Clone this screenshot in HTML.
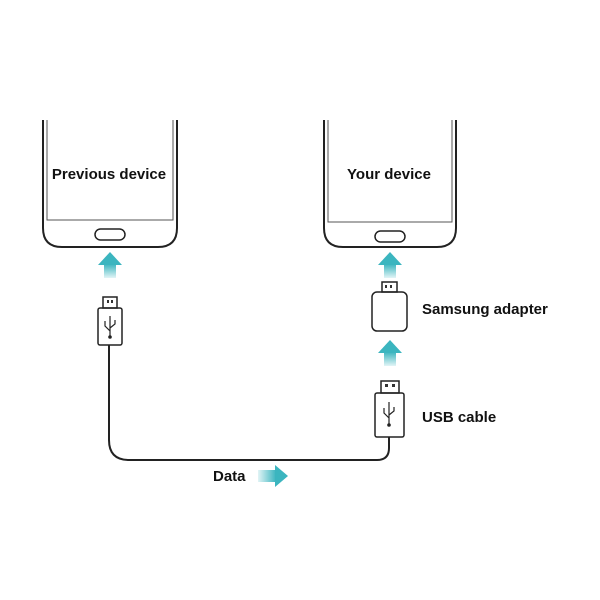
<!DOCTYPE html>
<html><head><style>body{margin:0;background:#fff}svg{display:block}text{font-family:"Liberation Sans",sans-serif;font-weight:bold;font-size:15px;fill:#111}</style></head>
<body>
<svg width="600" height="600" viewBox="0 0 600 600">
<defs>
<linearGradient id="g" x1="0" y1="1" x2="0" y2="0"><stop offset="0" stop-color="#3bb5bf" stop-opacity="0.15"/><stop offset="1" stop-color="#3bb5bf"/></linearGradient>
<linearGradient id="gh" x1="0" y1="0" x2="1" y2="0"><stop offset="0" stop-color="#3bb5bf" stop-opacity="0.15"/><stop offset="1" stop-color="#3bb5bf"/></linearGradient>
</defs>
<g fill="none" stroke="#222" stroke-width="2">
<path d="M43,120 V228 Q43,247 62,247 H158 Q177,247 177,228 V120"/>
<path d="M47,120 V220 H173 V120" stroke-width="1" stroke="#555"/>
<rect x="95" y="229" width="30" height="11" rx="5.5" stroke-width="1.5"/>
<path d="M324,120 V228 Q324,247 343,247 H437 Q456,247 456,228 V120"/>
<path d="M328,120 V222 H452 V120" stroke-width="1" stroke="#555"/>
<rect x="375" y="231" width="30" height="11" rx="5.5" stroke-width="1.5"/>
<rect x="103" y="297" width="14" height="11" stroke-width="1.5"/>
<rect x="98" y="308" width="24" height="37" rx="2" stroke-width="1.5"/>
<path d="M109,345 V440 Q109,460 129,460 H377 Q389,460 389,448 V437"/>
<rect x="382" y="282" width="15" height="10" stroke-width="1.5"/>
<rect x="372" y="292" width="35" height="39" rx="5" stroke-width="1.5"/>
<rect x="381" y="381" width="18" height="12" stroke-width="1.5"/>
<rect x="375" y="393" width="29" height="44" rx="2" stroke-width="1.5"/>
</g>
<g fill="#333">
<rect x="107" y="300" width="2" height="3"/><rect x="111" y="300" width="2" height="3"/>
<rect x="385" y="285" width="2" height="3"/><rect x="390" y="285" width="2" height="3"/>
<rect x="385" y="384" width="3" height="3"/><rect x="392" y="384" width="3" height="3"/>
</g>
<g stroke="#222" stroke-width="1.2" fill="none">
<path d="M110,316 V336 M110,331 L105,326 V321 M110,328 L115,324 V320"/>
<path d="M389,402 V424 M389,418 L384,413 V408 M389,415 L394,411 V407"/>
</g>
<circle cx="110" cy="337" r="1.8" fill="#222"/><circle cx="389" cy="425" r="1.8" fill="#222"/>
<g>
<rect x="104" y="264" width="12" height="14" fill="url(#g)"/><polygon points="98,265 110,252 122,265" fill="#3bb5bf"/>
<rect x="384" y="264" width="12" height="14" fill="url(#g)"/><polygon points="378,265 390,252 402,265" fill="#3bb5bf"/>
<rect x="384" y="352" width="12" height="14" fill="url(#g)"/><polygon points="378,353 390,340 402,353" fill="#3bb5bf"/>
<rect x="258" y="470" width="18" height="12" fill="url(#gh)"/><polygon points="275,465 288,476 275,487" fill="#3bb5bf"/>
</g>
<text x="109" y="179" text-anchor="middle">Previous device</text>
<text x="389" y="179" text-anchor="middle">Your device</text>
<text x="422" y="314">Samsung adapter</text>
<text x="422" y="422">USB cable</text>
<text x="213" y="481">Data</text>
</svg>
</body></html>
